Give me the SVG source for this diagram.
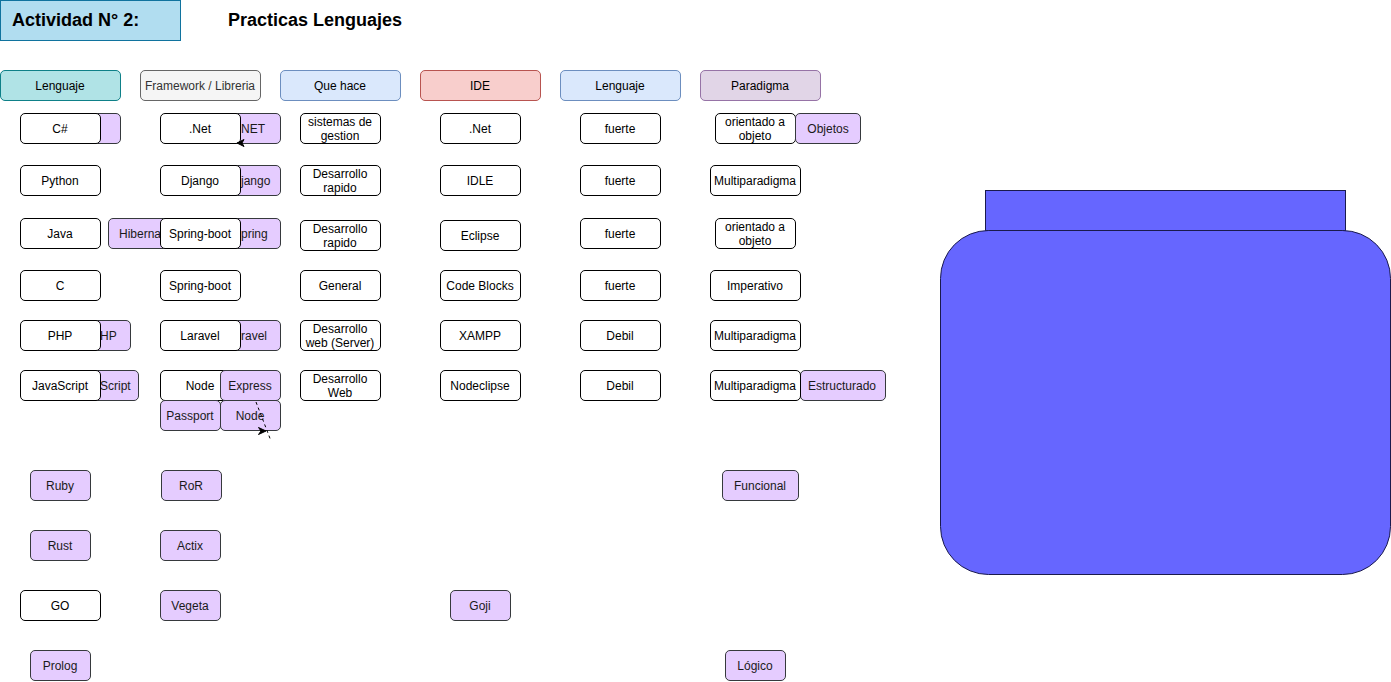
<svg xmlns="http://www.w3.org/2000/svg" width="1391" height="682" viewBox="0 0 1391 682">
<style>
text{font-family:"Liberation Sans",Arial,Helvetica,sans-serif;font-size:12px;fill:#000;text-anchor:middle}
.w{fill:#fff;stroke:#000;stroke-width:1}
.p{fill:#e5ccff;stroke:#36393d;stroke-width:1}
.pt{fill:#1a1a1a}
.frag{text-anchor:start;fill:#1a1a1a}
.title{font-size:18px;font-weight:bold;text-anchor:start}
.blob{fill:#6666ff;stroke:#1a1a4d;stroke-width:1}
.arrow{fill:#000;stroke:#000;stroke-width:1}
.dash{fill:none;stroke:#000;stroke-width:1;stroke-dasharray:3 3}
</style>
<rect width="1391" height="682" fill="#fff"/>

<g id="title-box">
<rect x="0.5" y="0.5" width="180" height="40" fill="#b1ddf0" stroke="#10739e"/>
<text class="title" x="12" y="26">Actividad N° 2:</text>
</g>
<g id="title-text"><text class="title" x="228" y="26">Practicas Lenguajes</text></g>

<g id="h-lenguaje"><rect x="0.5" y="70.5" width="120" height="30" rx="4.5" fill="#b0e3e6" stroke="#0e8088"/><text x="60" y="90">Lenguaje</text></g>
<g id="h-framework"><rect x="140.5" y="70.5" width="120" height="30" rx="4.5" fill="#f5f5f5" stroke="#666"/><text x="200" y="90" style="fill:#333">Framework / Libreria</text></g>
<g id="h-quehace"><rect x="280.5" y="70.5" width="120" height="30" rx="4.5" fill="#dae8fc" stroke="#6c8ebf"/><text x="340" y="90">Que hace</text></g>
<g id="h-ide"><rect x="420.5" y="70.5" width="120" height="30" rx="4.5" fill="#f8cecc" stroke="#b85450"/><text x="480" y="90">IDE</text></g>
<g id="h-lenguaje2"><rect x="560.5" y="70.5" width="120" height="30" rx="4.5" fill="#dae8fc" stroke="#6c8ebf"/><text x="620" y="90">Lenguaje</text></g>
<g id="h-paradigma"><rect x="700.5" y="70.5" width="120" height="30" rx="4.5" fill="#e1d5e7" stroke="#9673a6"/><text x="760" y="90">Paradigma</text></g>

<!-- hidden purple nodes behind -->
<g id="p-csharp"><rect class="p" x="40.5" y="113.5" width="80" height="30" rx="4.5"/></g>
<g id="p-dotnet"><rect class="p" x="200.5" y="113.5" width="80" height="30" rx="4.5"/><text class="frag" x="241" y="133">NET</text></g>
<g id="p-django"><rect class="p" x="200.5" y="165.5" width="80" height="30" rx="4.5"/><text class="frag" x="241" y="185">jango</text></g>
<g id="p-hibernate"><rect class="p" x="108.5" y="218.5" width="80" height="30" rx="4.5"/><text class="frag" x="119" y="238">Hiberna</text></g>
<g id="p-spring"><rect class="p" x="200.5" y="218.5" width="80" height="30" rx="4.5"/><text class="frag" x="241" y="238">pring</text></g>
<g id="p-php"><rect class="p" x="50.5" y="320.5" width="80" height="30" rx="4.5"/><text class="frag" x="100" y="340">HP</text></g>
<g id="p-laravel"><rect class="p" x="200.5" y="320.5" width="80" height="30" rx="4.5"/><text class="frag" x="241" y="340">ravel</text></g>
<g id="p-js"><rect class="p" x="58.5" y="370.5" width="80" height="30" rx="4.5"/><text class="frag" x="100" y="390">Script</text></g>

<!-- Lenguaje column -->
<g id="n-csharp"><rect class="w" x="20.5" y="113.5" width="80" height="30" rx="4.5"/><text x="60" y="133">C#</text></g>
<g id="n-python"><rect class="w" x="20.5" y="165.5" width="80" height="30" rx="4.5"/><text x="60" y="185">Python</text></g>
<g id="n-java"><rect class="w" x="20.5" y="218.5" width="80" height="30" rx="4.5"/><text x="60" y="238">Java</text></g>
<g id="n-c"><rect class="w" x="20.5" y="270.5" width="80" height="30" rx="4.5"/><text x="60" y="290">C</text></g>
<g id="n-php"><rect class="w" x="20.5" y="320.5" width="80" height="30" rx="4.5"/><text x="60" y="340">PHP</text></g>
<g id="n-js"><rect class="w" x="20.5" y="370.5" width="80" height="30" rx="4.5"/><text x="60" y="390">JavaScript</text></g>

<!-- Framework column -->
<g id="n-dotnet"><rect class="w" x="160.5" y="113.5" width="80" height="30" rx="4.5"/><text x="200" y="133">.Net</text></g>
<g id="n-django"><rect class="w" x="160.5" y="165.5" width="80" height="30" rx="4.5"/><text x="200" y="185">Django</text></g>
<g id="n-springboot1"><rect class="w" x="160.5" y="218.5" width="80" height="30" rx="4.5"/><text x="200" y="238">Spring-boot</text></g>
<g id="n-springboot2"><rect class="w" x="160.5" y="270.5" width="80" height="30" rx="4.5"/><text x="200" y="290">Spring-boot</text></g>
<g id="n-laravel"><rect class="w" x="160.5" y="320.5" width="80" height="30" rx="4.5"/><text x="200" y="340">Laravel</text></g>
<g id="n-node"><rect class="w" x="160.5" y="370.5" width="80" height="30" rx="4.5"/><text x="200" y="390">Node</text></g>
<g id="n-express"><rect class="p" x="220.5" y="370.5" width="60" height="30" rx="4.5"/><text class="pt" x="250" y="390">Express</text></g>
<g id="n-passport"><rect class="p" x="160.5" y="400.5" width="60" height="30" rx="4.5"/><text class="pt" x="190" y="420">Passport</text></g>
<g id="n-node2"><rect class="p" x="220.5" y="400.5" width="60" height="30" rx="4.5"/><text class="pt" x="250" y="420">Node</text></g>

<!-- Que hace column -->
<g id="n-qh1"><rect class="w" x="300.5" y="113.5" width="80" height="30" rx="4.5"/><text x="340" y="126">sistemas de</text><text x="340" y="140">gestion</text></g>
<g id="n-qh2"><rect class="w" x="300.5" y="165.5" width="80" height="30" rx="4.5"/><text x="340" y="178">Desarrollo</text><text x="340" y="192">rapido</text></g>
<g id="n-qh3"><rect class="w" x="300.5" y="220.5" width="80" height="30" rx="4.5"/><text x="340" y="233">Desarrollo</text><text x="340" y="247">rapido</text></g>
<g id="n-qh4"><rect class="w" x="300.5" y="270.5" width="80" height="30" rx="4.5"/><text x="340" y="290">General</text></g>
<g id="n-qh5"><rect class="w" x="300.5" y="320.5" width="80" height="30" rx="4.5"/><text x="340" y="333">Desarrollo</text><text x="340" y="347">web (Server)</text></g>
<g id="n-qh6"><rect class="w" x="300.5" y="370.5" width="80" height="30" rx="4.5"/><text x="340" y="383">Desarrollo</text><text x="340" y="397">Web</text></g>

<!-- IDE column -->
<g id="n-ide1"><rect class="w" x="440.5" y="113.5" width="80" height="30" rx="4.5"/><text x="480" y="133">.Net</text></g>
<g id="n-ide2"><rect class="w" x="440.5" y="165.5" width="80" height="30" rx="4.5"/><text x="480" y="185">IDLE</text></g>
<g id="n-ide3"><rect class="w" x="440.5" y="220.5" width="80" height="30" rx="4.5"/><text x="480" y="240">Eclipse</text></g>
<g id="n-ide4"><rect class="w" x="440.5" y="270.5" width="80" height="30" rx="4.5"/><text x="480" y="290">Code Blocks</text></g>
<g id="n-ide5"><rect class="w" x="440.5" y="320.5" width="80" height="30" rx="4.5"/><text x="480" y="340">XAMPP</text></g>
<g id="n-ide6"><rect class="w" x="440.5" y="370.5" width="80" height="30" rx="4.5"/><text x="480" y="390">Nodeclipse</text></g>

<!-- Lenguaje (typing) column -->
<g id="n-t1"><rect class="w" x="580.5" y="113.5" width="80" height="30" rx="4.5"/><text x="620" y="133">fuerte</text></g>
<g id="n-t2"><rect class="w" x="580.5" y="165.5" width="80" height="30" rx="4.5"/><text x="620" y="185">fuerte</text></g>
<g id="n-t3"><rect class="w" x="580.5" y="218.5" width="80" height="30" rx="4.5"/><text x="620" y="238">fuerte</text></g>
<g id="n-t4"><rect class="w" x="580.5" y="270.5" width="80" height="30" rx="4.5"/><text x="620" y="290">fuerte</text></g>
<g id="n-t5"><rect class="w" x="580.5" y="320.5" width="80" height="30" rx="4.5"/><text x="620" y="340">Debil</text></g>
<g id="n-t6"><rect class="w" x="580.5" y="370.5" width="80" height="30" rx="4.5"/><text x="620" y="390">Debil</text></g>

<!-- Paradigma column -->
<g id="n-pa1"><rect class="w" x="715.5" y="113.5" width="80" height="30" rx="4.5"/><text x="755" y="126">orientado a</text><text x="755" y="140">objeto</text></g>
<g id="n-objetos"><rect class="p" x="795.5" y="113.5" width="65" height="30" rx="4.5"/><text class="pt" x="828" y="133">Objetos</text></g>
<g id="n-pa2"><rect class="w" x="710.5" y="165.5" width="90" height="30" rx="4.5"/><text x="755" y="185">Multiparadigma</text></g>
<g id="n-pa3"><rect class="w" x="715.5" y="218.5" width="80" height="30" rx="4.5"/><text x="755" y="231">orientado a</text><text x="755" y="245">objeto</text></g>
<g id="n-pa4"><rect class="w" x="710.5" y="270.5" width="90" height="30" rx="4.5"/><text x="755" y="290">Imperativo</text></g>
<g id="n-pa5"><rect class="w" x="710.5" y="320.5" width="90" height="30" rx="4.5"/><text x="755" y="340">Multiparadigma</text></g>
<g id="n-estructurado"><rect class="p" x="800.5" y="370.5" width="85" height="30" rx="4.5"/><text class="pt" x="842" y="390">Estructurado</text></g>
<g id="n-pa6"><rect class="w" x="710.5" y="370.5" width="90" height="30" rx="4.5"/><text x="755" y="390">Multiparadigma</text></g>

<!-- Bottom nodes -->
<g id="n-ruby"><rect class="p" x="30.5" y="470.5" width="60" height="30" rx="4.5"/><text class="pt" x="60" y="490">Ruby</text></g>
<g id="n-ror"><rect class="p" x="161.5" y="470.5" width="60" height="30" rx="4.5"/><text class="pt" x="191" y="490">RoR</text></g>
<g id="n-rust"><rect class="p" x="30.5" y="530.5" width="60" height="30" rx="4.5"/><text class="pt" x="60" y="550">Rust</text></g>
<g id="n-actix"><rect class="p" x="160.5" y="530.5" width="60" height="30" rx="4.5"/><text class="pt" x="190" y="550">Actix</text></g>
<g id="n-go"><rect class="w" x="20.5" y="590.5" width="80" height="30" rx="4.5"/><text x="60" y="610">GO</text></g>
<g id="n-vegeta"><rect class="p" x="160.5" y="590.5" width="60" height="30" rx="4.5"/><text class="pt" x="190" y="610">Vegeta</text></g>
<g id="n-goji"><rect class="p" x="450.5" y="590.5" width="60" height="30" rx="4.5"/><text class="pt" x="480" y="610">Goji</text></g>
<g id="n-prolog"><rect class="p" x="30.5" y="650.5" width="60" height="30" rx="4.5"/><text class="pt" x="60" y="670">Prolog</text></g>
<g id="n-funcional"><rect class="p" x="722.5" y="470.5" width="76" height="30" rx="4.5"/><text class="pt" x="760" y="490">Funcional</text></g>
<g id="n-logico"><rect class="p" x="725.5" y="650.5" width="60" height="30" rx="4.5"/><text class="pt" x="755" y="670">Lógico</text></g>

<!-- Blob shape -->
<g id="n-blob">
<rect class="blob" x="985.5" y="190.5" width="360" height="40"/>
<rect class="blob" x="940.5" y="230.5" width="450" height="344" rx="48"/>
</g>

<g id="connectors">
<path class="arrow" d="M237,143 L244,139.5 L242,143 L244,146.5 Z"/>
<path class="dash" d="M256,402 L271,441"/>
<path class="arrow" d="M266,431 L258.5,427.5 L261,431 L258.5,434.5 Z"/>
</g>
</svg>
